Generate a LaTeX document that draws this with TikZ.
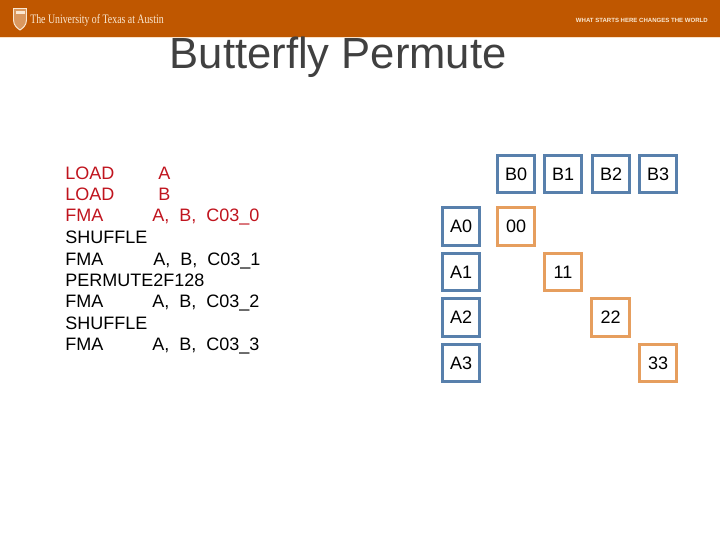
\documentclass[tikz,border=0pt]{standalone}
\usepackage{fontspec}
\setmainfont{Liberation Sans}
\newfontfamily\seriffont[FakeStretch=0.76]{Liberation Serif}
\definecolor{burnt}{RGB}{191,87,0}
\definecolor{paleline}{RGB}{250,225,200}
\definecolor{cream}{RGB}{250,232,210}
\definecolor{titleg}{RGB}{64,64,64}
\definecolor{codered}{RGB}{192,20,30}
\definecolor{boxblue}{RGB}{88,128,172}
\definecolor{boxorange}{RGB}{230,158,94}
\tikzset{
  regbox/.style={draw=boxblue, line width=2.2pt, minimum width=0.93cm, minimum height=0.93cm, inner sep=0pt, font=\fontsize{12.8}{15}\selectfont},
  pairbox/.style={regbox, draw=boxorange},
  codeline/.style={anchor=base west, inner sep=0pt, font=\fontsize{12.8}{15}\selectfont}
}
\begin{document}
\begin{tikzpicture}[x=0.025cm,y=-0.025cm]
% geometry: coordinates are reference pixels, 720 x 540, y downwards
\useasboundingbox (0,0) rectangle (720,540);

% ---- header band ----
\fill[burnt] (0,0) rectangle (720,37);
\fill[paleline] (0,37) rectangle (720,38);
\draw[cream, line width=0.7pt, fill=burnt!55!cream] (13.5,8.5) -- (26.5,8.5) -- (26.5,20) .. controls (26.5,26) and (22,28.5) .. (20,30) .. controls (18,28.5) and (13.5,26) .. (13.5,20) -- cycle;
\fill[cream] (15.5,10.5) rectangle (24.5,14);
\node[anchor=base west, inner sep=0pt, text=cream, font=\seriffont\fontsize{9.2}{12}\selectfont] (ut) at (30,23.5) {The University of Texas at Austin};
\node[anchor=base east, inner sep=0pt, text=cream, font=\bfseries\fontsize{4.3}{6}\selectfont] (motto) at (708,22.5) {WHAT STARTS HERE CHANGES THE WORLD};

% ---- title ----
\node[anchor=base west, inner sep=0pt, text=titleg, font=\fontsize{31}{36}\selectfont] (title) at (169.5,68.5) {Butterfly Permute};

% ---- code listing: {baseline}/{op}/{x of args}/{args} ----
\foreach \i/\y/\op/\xa/\args/\col in {
  1/179.5/LOAD/158/A/codered,
  2/200.5/LOAD/158/B/codered,
  3/221.5/FMA/152/{A,\ \ B,\ \ C03\_0}/codered,
  4/243.5/SHUFFLE/0//black,
  5/265.5/FMA/153/{A,\ \ B,\ \ C03\_1}/black,
  6/286.5/PERMUTE2F128/0//black,
  7/307.5/FMA/152/{A,\ \ B,\ \ C03\_2}/black,
  8/329.5/SHUFFLE/0//black,
  9/350.5/FMA/152/{A,\ \ B,\ \ C03\_3}/black}{
  \node[codeline, text=\col] (op\i) at (65,\y) {\op};
  \ifnum\xa>0
    \node[codeline, text=\col] (args\i) at (\xa,\y) {\args};
  \fi
}

% ---- register boxes ----
\foreach \n/\x in {0/516, 1/563, 2/611, 3/658}{
  \node[regbox] (B\n) at (\x,174) {B\n};
}
\foreach \n/\y in {0/226.5, 1/272, 2/317.5, 3/363}{
  \node[regbox] (A\n) at (461,\y) {A\n};
}

% ---- diagonal pairs ----
\node[pairbox] (p00) at (516,226.5) {00};
\node[pairbox] (p11) at (563,272) {11};
\node[pairbox] (p22) at (610.5,317.5) {22};
\node[pairbox] (p33) at (658,363) {33};
\end{tikzpicture}
\end{document}
